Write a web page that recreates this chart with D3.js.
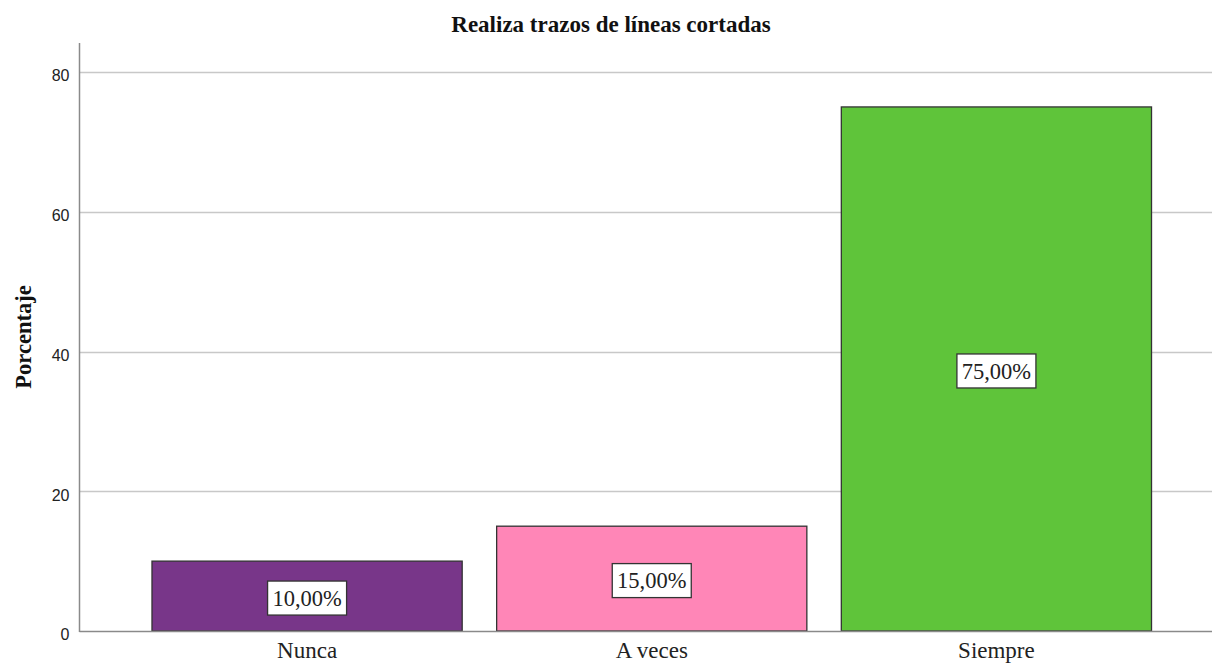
<!DOCTYPE html>
<html><head><meta charset="utf-8">
<script src="https://cdn.jsdelivr.net/npm/d3@7"></script>
<style>body{margin:0;background:#fff}svg{display:block}</style>
</head><body>
<script>
const categories = ["Nunca", "A veces", "Siempre"];
const values = [10, 15, 75];
const valueLabels = ["10,00%", "15,00%", "75,00%"];
const colors = ["#783689", "#FF86B7", "#5FC43A"];
const yTicks = [0, 20, 40, 60, 80];
const title = "Realiza trazos de líneas cortadas";
const yTitle = "Porcentaje";

const W = 1214, H = 664;
const svg = d3.select("body").append("svg").attr("width", W).attr("height", H);

const axisX = 79.5, plotRight = 1212, baseY = 631;
const y = d3.scaleLinear().domain([0, 80]).range([baseY, 72]);
const x = d3.scaleBand().domain(categories).range([134.75, 1168.75]).paddingInner(0.1).paddingOuter(0.05);

// grid lines
svg.append("g").selectAll("line").data(yTicks.filter(d => d > 0)).join("line")
  .attr("x1", axisX).attr("x2", plotRight)
  .attr("y1", d => Math.round(y(d)) + 0.5).attr("y2", d => Math.round(y(d)) + 0.5)
  .attr("stroke", "#c8c8c8").attr("stroke-width", 1.5);

// y axis
const yAxis = d3.axisLeft(y).tickValues(yTicks).tickSize(0).tickPadding(10).tickFormat(d3.format("d"));
const gy = svg.append("g").attr("transform", `translate(${axisX},0)`).call(yAxis);
gy.select(".domain").remove();
gy.selectAll("text").attr("font-family", "Liberation Sans, Arial, sans-serif").attr("font-size", 16)
  .attr("fill", "#222").attr("dy", "0.55em");
svg.append("line").attr("x1", axisX).attr("x2", axisX).attr("y1", 43).attr("y2", baseY + 1)
  .attr("stroke", "#8a8a8a").attr("stroke-width", 1.5);

// bars
svg.append("g").selectAll("rect").data(values).join("rect")
  .attr("x", (d, i) => x(categories[i]))
  .attr("y", d => y(d))
  .attr("width", x.bandwidth())
  .attr("height", d => baseY - y(d))
  .attr("fill", (d, i) => colors[i])
  .attr("stroke", "#333").attr("stroke-width", 1.3);

// baseline
svg.append("line").attr("x1", axisX).attr("x2", plotRight).attr("y1", baseY + 0.5).attr("y2", baseY + 0.5)
  .attr("stroke", "#8a8a8a").attr("stroke-width", 1.5);

// x axis labels
const xAxis = d3.axisBottom(x).tickSize(0).tickPadding(11);
const gx = svg.append("g").attr("transform", `translate(0,${baseY})`).call(xAxis);
gx.select(".domain").remove();
gx.selectAll("text").attr("font-family", "Liberation Serif, Times New Roman, serif").attr("font-size", 23).attr("fill", "#222");

// value labels
const lab = svg.append("g").selectAll("g").data(values).join("g")
  .attr("transform", (d, i) => `translate(${x(categories[i]) + x.bandwidth() / 2},${(y(d) + baseY) / 2 + 2})`);
lab.append("rect").attr("x", -39.5).attr("y", -17).attr("width", 79).attr("height", 34)
  .attr("fill", "#fff").attr("stroke", "#333").attr("stroke-width", 1.3);
lab.append("text").text((d, i) => valueLabels[i])
  .attr("text-anchor", "middle").attr("dy", "0.35em")
  .attr("font-family", "Liberation Serif, Times New Roman, serif").attr("font-size", 22.5).attr("fill", "#222");

// titles
svg.append("text").attr("x", 611).attr("y", 32).attr("text-anchor", "middle")
  .attr("font-family", "Liberation Serif, Times New Roman, serif").attr("font-weight", "bold").attr("font-size", 23)
  .attr("fill", "#111").text(title);
svg.append("text").attr("transform", "translate(31,337) rotate(-90)").attr("text-anchor", "middle")
  .attr("font-family", "Liberation Serif, Times New Roman, serif").attr("font-weight", "bold").attr("font-size", 22.5)
  .attr("fill", "#111").text(yTitle);
</script>
</body></html>
